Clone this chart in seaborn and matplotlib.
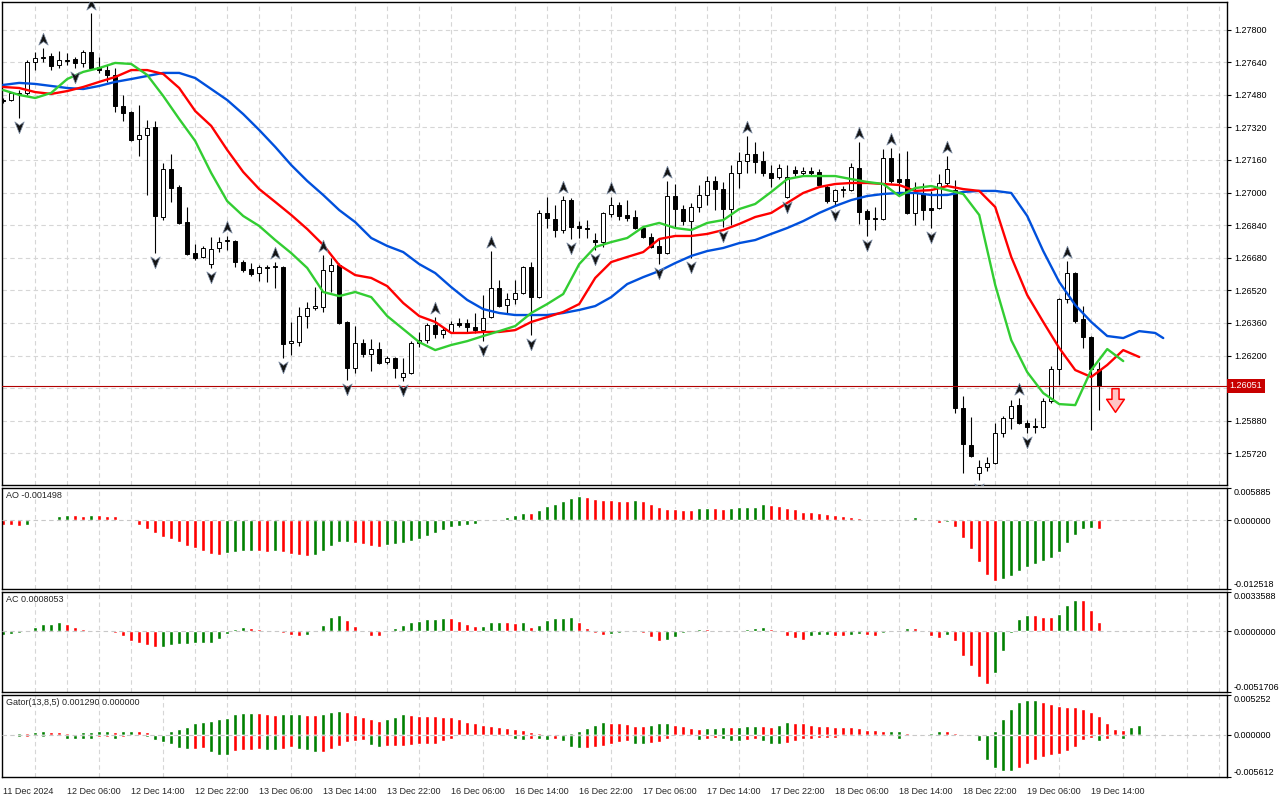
import numpy as np
import pandas as pd
import matplotlib
matplotlib.use("Agg")
import matplotlib.pyplot as plt
from matplotlib.path import Path
from matplotlib.transforms import offset_copy, blended_transform_factory
import seaborn as sns

# hourly GBPUSD-like candles, 11 Dec 22:00 .. 19 Dec 15:00
opens = [
    1.27454, 1.27454, 1.27484, 1.27489, 1.27641, 1.27660, 1.27670, 1.27626, 1.27646, 1.27655,
    1.27636, 1.27690, 1.27616, 1.27601, 1.27577, 1.27425, 1.27395, 1.27263, 1.27282, 1.27322,
    1.26880, 1.27116, 1.27027, 1.26855, 1.26703, 1.26684, 1.26649, 1.26728, 1.26762, 1.26762,
    1.26659, 1.26625, 1.26605, 1.26630, 1.26635, 1.26635, 1.26262, 1.26266, 1.26394, 1.26433,
    1.26438, 1.26615, 1.26644, 1.26365, 1.26139, 1.26262, 1.26208, 1.26232, 1.26168, 1.26188,
    1.26095, 1.26114, 1.26262, 1.26276, 1.26350, 1.26306, 1.26316, 1.26360, 1.26360, 1.26340,
    1.26325, 1.26389, 1.26532, 1.26448, 1.26478, 1.26507, 1.26635, 1.26487, 1.26900, 1.26870,
    1.26816, 1.26963, 1.26836, 1.26826, 1.26767, 1.26757, 1.26895, 1.26939, 1.26890, 1.26880,
    1.26826, 1.26782, 1.26738, 1.26703, 1.26983, 1.26919, 1.26860, 1.26929, 1.26988, 1.27057,
    1.27017, 1.26919, 1.27096, 1.27155, 1.27189, 1.27155, 1.27096, 1.27076, 1.26978, 1.27111,
    1.27096, 1.27106, 1.27101, 1.27027, 1.26958, 1.27012, 1.27012, 1.27120, 1.26909, 1.26870,
    1.26870, 1.27170, 1.27066, 1.27066, 1.26900, 1.26998, 1.26924, 1.26924, 1.27047, 1.27012,
    1.25943, 1.25761, 1.25624, 1.25653, 1.25673, 1.25820, 1.25893, 1.25957, 1.25869, 1.25854,
    1.25849, 1.25977, 1.26134, 1.26478, 1.26605, 1.26379, 1.26291, 1.26134,
]
highs = [
    1.27464, 1.27493, 1.27503, 1.27651, 1.27690, 1.27709, 1.27685, 1.27695, 1.27685, 1.27665,
    1.27700, 1.27881, 1.27665, 1.27626, 1.27611, 1.27479, 1.27400, 1.27430, 1.27356, 1.27351,
    1.27145, 1.27189, 1.27037, 1.26929, 1.26747, 1.26738, 1.26782, 1.26782, 1.26787, 1.26767,
    1.26669, 1.26654, 1.26644, 1.26644, 1.26659, 1.26639, 1.26365, 1.26438, 1.26463, 1.26536,
    1.26693, 1.26679, 1.26654, 1.26370, 1.26345, 1.26281, 1.26281, 1.26266, 1.26198, 1.26193,
    1.26188, 1.26271, 1.26316, 1.26360, 1.26389, 1.26340, 1.26370, 1.26384, 1.26379, 1.26409,
    1.26497, 1.26713, 1.26571, 1.26507, 1.26571, 1.26639, 1.26659, 1.26914, 1.26978, 1.26939,
    1.26983, 1.26973, 1.26860, 1.26865, 1.26801, 1.26905, 1.26978, 1.26954, 1.26963, 1.26914,
    1.26831, 1.26801, 1.26777, 1.27057, 1.27042, 1.26939, 1.26949, 1.27037, 1.27081, 1.27081,
    1.27052, 1.27135, 1.27199, 1.27278, 1.27248, 1.27204, 1.27135, 1.27140, 1.27135, 1.27130,
    1.27125, 1.27125, 1.27116, 1.27037, 1.27017, 1.27032, 1.27145, 1.27248, 1.26919, 1.26929,
    1.27214, 1.27219, 1.27194, 1.27204, 1.27052, 1.27047, 1.27008, 1.27091, 1.27179, 1.27062,
    1.26001, 1.25898, 1.25687, 1.25702, 1.25869, 1.25903, 1.25982, 1.25992, 1.25884, 1.25893,
    1.25992, 1.26149, 1.26482, 1.26664, 1.26610, 1.26443, 1.26296, 1.26168,
]
lows = [
    1.27439, 1.27449, 1.27366, 1.27479, 1.27601, 1.27641, 1.27601, 1.27611, 1.27626, 1.27611,
    1.27616, 1.27606, 1.27587, 1.27543, 1.27395, 1.27351, 1.27253, 1.27179, 1.26988, 1.26703,
    1.26865, 1.26954, 1.26846, 1.26693, 1.26669, 1.26679, 1.26630, 1.26708, 1.26718, 1.26635,
    1.26610, 1.26590, 1.26566, 1.26561, 1.26532, 1.26188, 1.26203, 1.26247, 1.26335, 1.26424,
    1.26414, 1.26512, 1.26355, 1.26080, 1.26114, 1.26193, 1.26124, 1.26158, 1.26158, 1.26090,
    1.26075, 1.26109, 1.26242, 1.26262, 1.26286, 1.26286, 1.26311, 1.26340, 1.26311, 1.26311,
    1.26271, 1.26384, 1.26438, 1.26409, 1.26453, 1.26502, 1.26301, 1.26482, 1.26826, 1.26782,
    1.26801, 1.26772, 1.26777, 1.26777, 1.26718, 1.26733, 1.26880, 1.26865, 1.26860, 1.26821,
    1.26777, 1.26728, 1.26649, 1.26698, 1.26831, 1.26841, 1.26679, 1.26905, 1.26939, 1.26914,
    1.26831, 1.26841, 1.27022, 1.27096, 1.27096, 1.27081, 1.27027, 1.27066, 1.26973, 1.27081,
    1.27081, 1.27081, 1.27027, 1.26949, 1.26934, 1.26978, 1.27008, 1.26846, 1.26787, 1.26816,
    1.26865, 1.27047, 1.26988, 1.26895, 1.26841, 1.26865, 1.26826, 1.26919, 1.27037, 1.25918,
    1.25624, 1.25702, 1.25589, 1.25633, 1.25668, 1.25800, 1.25839, 1.25864, 1.25820, 1.25820,
    1.25844, 1.25967, 1.26055, 1.26458, 1.26360, 1.26237, 1.25835, 1.25933,
]
closes = [
    1.27449, 1.27489, 1.27489, 1.27641, 1.27660, 1.27665, 1.27621, 1.27651, 1.27651, 1.27636,
    1.27690, 1.27611, 1.27601, 1.27577, 1.27425, 1.27390, 1.27258, 1.27282, 1.27317, 1.26885,
    1.27116, 1.27022, 1.26851, 1.26698, 1.26679, 1.26728, 1.26723, 1.26757, 1.26767, 1.26659,
    1.26620, 1.26600, 1.26635, 1.26635, 1.26639, 1.26257, 1.26271, 1.26394, 1.26433, 1.26443,
    1.26620, 1.26644, 1.26360, 1.26139, 1.26262, 1.26208, 1.26232, 1.26163, 1.26188, 1.26139,
    1.26114, 1.26262, 1.26276, 1.26350, 1.26306, 1.26325, 1.26355, 1.26350, 1.26340, 1.26325,
    1.26384, 1.26532, 1.26443, 1.26478, 1.26507, 1.26635, 1.26487, 1.26900, 1.26875, 1.26816,
    1.26963, 1.26831, 1.26826, 1.26821, 1.26757, 1.26900, 1.26939, 1.26885, 1.26875, 1.26826,
    1.26782, 1.26733, 1.26703, 1.26983, 1.26919, 1.26860, 1.26929, 1.26988, 1.27057, 1.27017,
    1.26919, 1.27096, 1.27155, 1.27189, 1.27150, 1.27096, 1.27071, 1.27120, 1.27076, 1.27096,
    1.27106, 1.27096, 1.27037, 1.26958, 1.27012, 1.27017, 1.27125, 1.26905, 1.26870, 1.26875,
    1.27170, 1.27057, 1.27052, 1.26900, 1.26998, 1.26914, 1.26914, 1.27047, 1.27116, 1.25943,
    1.25766, 1.25707, 1.25653, 1.25673, 1.25820, 1.25893, 1.25952, 1.25869, 1.25849, 1.25849,
    1.25977, 1.26134, 1.26478, 1.26605, 1.26370, 1.26291, 1.26134, 1.26051,
]

# alligator lines, read every second bar (shifted forward past the last candle)
jaw_idx = list(range(0, 145, 2)) + [145]
jaw = [
    1.27528, 1.27538, 1.27533, 1.27523, 1.27513, 1.27508, 1.27523, 1.27543, 1.27557, 1.27572,
    1.27587, 1.27587, 1.27562, 1.27508, 1.27454, 1.27385, 1.27307, 1.27224, 1.27135, 1.27057,
    1.26988, 1.26914, 1.26855, 1.26777, 1.26738, 1.26708, 1.26649, 1.26605, 1.26536, 1.26473,
    1.26428, 1.26409, 1.26399, 1.26399, 1.26399, 1.26409, 1.26424, 1.26443, 1.26487, 1.26551,
    1.26585, 1.26615, 1.26654, 1.26689, 1.26713, 1.26728, 1.26752, 1.26767, 1.26797, 1.26826,
    1.26860, 1.26900, 1.26934, 1.26963, 1.26983, 1.26993, 1.26998, 1.26998, 1.26988, 1.26988,
    1.27003, 1.27008, 1.27008, 1.26998, 1.26885, 1.26713, 1.26561, 1.26448, 1.26365, 1.26296,
    1.26286, 1.26320, 1.26311, 1.26286,
]
teeth_idx = list(range(0, 143, 2))
teeth = [
    1.27518, 1.27513, 1.27493, 1.27484, 1.27498, 1.27518, 1.27543, 1.27567, 1.27601, 1.27601,
    1.27582, 1.27513, 1.27400, 1.27327, 1.27209, 1.27101, 1.27017, 1.26954, 1.26890, 1.26821,
    1.26743, 1.26644, 1.26595, 1.26581, 1.26541, 1.26458, 1.26394, 1.26365, 1.26311, 1.26311,
    1.26316, 1.26316, 1.26325, 1.26365, 1.26389, 1.26414, 1.26453, 1.26581, 1.26659, 1.26684,
    1.26708, 1.26772, 1.26787, 1.26787, 1.26797, 1.26816, 1.26846, 1.26880, 1.26900, 1.26949,
    1.26998, 1.27027, 1.27042, 1.27047, 1.27047, 1.27042, 1.27037, 1.27008, 1.27012, 1.27032,
    1.27017, 1.27008, 1.26929, 1.26684, 1.26497, 1.26365, 1.26237, 1.26129, 1.26095, 1.26154,
    1.26227, 1.26193,
]
lips_idx = list(range(0, 141, 2))
lips = [
    1.27503, 1.27479, 1.27464, 1.27489, 1.27557, 1.27592, 1.27611, 1.27636, 1.27631, 1.27577,
    1.27474, 1.27361, 1.27253, 1.27096, 1.26958, 1.26885, 1.26836, 1.26767, 1.26703, 1.26630,
    1.26512, 1.26492, 1.26512, 1.26487, 1.26394, 1.26330, 1.26266, 1.26227, 1.26252, 1.26271,
    1.26296, 1.26320, 1.26345, 1.26409, 1.26453, 1.26502, 1.26649, 1.26733, 1.26757, 1.26777,
    1.26831, 1.26851, 1.26826, 1.26816, 1.26851, 1.26865, 1.26919, 1.26944, 1.27003, 1.27066,
    1.27081, 1.27081, 1.27081, 1.27066, 1.27052, 1.27042, 1.26983, 1.27022, 1.27032, 1.27012,
    1.26993, 1.26890, 1.26546, 1.26276, 1.26119, 1.26016, 1.25962, 1.25957, 1.26129, 1.26232,
    1.26173,
]

up_fractals = [5, 11, 28, 34, 40, 54, 61, 70, 76, 83, 93, 107, 111, 118, 127, 133]
down_fractals = [2, 9, 19, 26, 35, 43, 50, 60, 66, 71, 74, 82, 86, 90, 98, 104, 108, 116, 122, 128]
signal_idx = [139]
signal_price = [1.25982]

ao = [
    -0.00079, -0.00091, -0.00103, -0.00079, -0.00012, 0.00006, 0.00018, 0.00073, 0.00091, 0.00089,
    0.00073, 0.00091, 0.00089, 0.00085, 0.00073, 0.00030, -0.00018, -0.00091, -0.00164, -0.00231,
    -0.00304, -0.00346, -0.00395, -0.00474, -0.00504, -0.00558, -0.00613, -0.00631, -0.00601, -0.00577,
    -0.00558, -0.00552, -0.00565, -0.00571, -0.00558, -0.00577, -0.00607, -0.00625, -0.00649, -0.00631,
    -0.00558, -0.00474, -0.00395, -0.00388, -0.00419, -0.00425, -0.00474, -0.00492, -0.00455, -0.00437,
    -0.00413, -0.00376, -0.00340, -0.00291, -0.00237, -0.00170, -0.00127, -0.00097, -0.00085, -0.00067,
    -0.00018, 0.00006, 0.00024, 0.00061, 0.00103, 0.00140, 0.00138, 0.00182, 0.00255, 0.00304,
    0.00358, 0.00407, 0.00437, 0.00419, 0.00382, 0.00364, 0.00362, 0.00360, 0.00358, 0.00364,
    0.00346, 0.00291, 0.00237, 0.00200, 0.00198, 0.00182, 0.00180, 0.00219, 0.00220, 0.00218,
    0.00200, 0.00220, 0.00237, 0.00238, 0.00249, 0.00291, 0.00285, 0.00255, 0.00219, 0.00200,
    0.00152, 0.00146, 0.00127, 0.00115, 0.00091, 0.00073, 0.00055, 0.00049, 0.00015, 0.00002,
    0.00003, 0.00004, 0.00006, 0.00030, 0.00055, 0.00030, -0.00006, -0.00042, -0.00036, -0.00121,
    -0.00322, -0.00522, -0.00759, -0.00995, -0.01105, -0.01068, -0.01014, -0.00929, -0.00850, -0.00795,
    -0.00741, -0.00686, -0.00577, -0.00413, -0.00267, -0.00158, -0.00140, -0.001498,
]
ac = [
    -0.00029, -0.00023, -0.00014, 0.00006, 0.00040, 0.00063, 0.00066, 0.00078, 0.00063, 0.00034,
    0.00017, 0.00014, 0.00009, 0.00003, -0.00014, -0.00040, -0.00083, -0.00101, -0.00118, -0.00135,
    -0.00132, -0.00112, -0.00109, -0.00106, -0.00103, -0.00101, -0.00098, -0.00069, -0.00020, 0.00017,
    0.00034, 0.00032, 0.00017, 0.00003, -0.00001, -0.00014, -0.00032, -0.00040, -0.00032, 0.00001,
    0.00052, 0.00121, 0.00138, 0.00095, 0.00043, -0.00001, -0.00040, -0.00043, 0.00001, 0.00026,
    0.00052, 0.00078, 0.00089, 0.00106, 0.00109, 0.00112, 0.00111, 0.00086, 0.00060, 0.00043,
    0.00046, 0.00078, 0.00080, 0.00077, 0.00075, 0.00078, 0.00034, 0.00052, 0.00095, 0.00112,
    0.00115, 0.00121, 0.00078, 0.00026, -0.00014, -0.00032, -0.00020, -0.00011, -0.00006, 0.00001,
    -0.00017, -0.00049, -0.00083, -0.00075, -0.00049, -0.00017, -0.00006, 0.00023, 0.00022, 0.00009,
    0.00003, 0.00009, 0.00011, 0.00017, 0.00026, 0.00034, 0.00023, -0.00003, -0.00043, -0.00057,
    -0.00072, -0.00040, -0.00032, -0.00029, -0.00040, -0.00043, -0.00032, -0.00023, -0.00032, -0.00043,
    -0.00017, -0.00002, 0.00007, 0.00033, 0.00030, 0.00009, -0.00040, -0.00057, -0.00032, -0.00083,
    -0.00213, -0.00299, -0.00393, -0.00448, -0.00359, -0.00169, -0.00014, 0.00103, 0.00138, 0.00136,
    0.00122, 0.00120, 0.00149, 0.00224, 0.00267, 0.00265, 0.00181, 0.0008053,
]
gator_up = [
    0.00004, 0.00009, 0.00022, 0.00018, 0.00036, 0.00049, 0.00036, 0.00031, 0.00022, 0.00013,
    0.00036, 0.00040, 0.00049, 0.00051, 0.00036, 0.00049, 0.00054, 0.00045, 0.00036, 0.00013,
    0.00004, 0.00049, 0.00076, 0.00103, 0.00148, 0.00174, 0.00183, 0.00201, 0.00224, 0.00268,
    0.00282, 0.00291, 0.00282, 0.00268, 0.00264, 0.00268, 0.00273, 0.00275, 0.00259, 0.00255,
    0.00268, 0.00304, 0.00317, 0.00304, 0.00255, 0.00232, 0.00201, 0.00183, 0.00210, 0.00237,
    0.00268, 0.00255, 0.00250, 0.00246, 0.00241, 0.00236, 0.00228, 0.00201, 0.00174, 0.00148,
    0.00134, 0.00121, 0.00107, 0.00094, 0.00080, 0.00067, 0.00040, 0.00018, 0.00013, 0.00004,
    0.00013, 0.00027, 0.00054, 0.00094, 0.00134, 0.00161, 0.00156, 0.00148, 0.00143, 0.00121,
    0.00116, 0.00134, 0.00148, 0.00152, 0.00134, 0.00121, 0.00094, 0.00080, 0.00085, 0.00094,
    0.00107, 0.00098, 0.00103, 0.00112, 0.00121, 0.00116, 0.00107, 0.00134, 0.00161, 0.00156,
    0.00148, 0.00134, 0.00116, 0.00112, 0.00107, 0.00103, 0.00098, 0.00089, 0.00067, 0.00058,
    0.00049, 0.00051, 0.00053, 0.00027, 0.00013, 0.00004, 0.00027, 0.00049, 0.00048, 0.00027,
    0.00013, 0.00015, 0.00013, 0.00009, 0.00049, 0.00201, 0.00335, 0.00429, 0.00456, 0.00458,
    0.00429, 0.00402, 0.00375, 0.00362, 0.00361, 0.00335, 0.00295, 0.00241, 0.00152, 0.00080,
    0.00067, 0.00107, 0.00129,
]
gator_down = [
    -0.00004, -0.00009, -0.00036, -0.00031, -0.00009, -0.00027, -0.00009, -0.00004, -0.00054, -0.00056,
    -0.00058, -0.00060, -0.00036, -0.00027, -0.00054, -0.00036, -0.00013, -0.00009, -0.00036, -0.00067,
    -0.00094, -0.00125, -0.00183, -0.00192, -0.00188, -0.00183, -0.00228, -0.00268, -0.00273, -0.00215,
    -0.00210, -0.00206, -0.00192, -0.00197, -0.00201, -0.00192, -0.00170, -0.00192, -0.00197, -0.00228,
    -0.00224, -0.00192, -0.00148, -0.00103, -0.00080, -0.00072, -0.00134, -0.00161, -0.00156, -0.00148,
    -0.00145, -0.00143, -0.00125, -0.00123, -0.00121, -0.00080, -0.00054, -0.00022, -0.00018, -0.00009,
    -0.00005, -0.00002, -0.00013, -0.00009, -0.00054, -0.00067, -0.00054, -0.00056, -0.00067, -0.00054,
    -0.00080, -0.00161, -0.00174, -0.00172, -0.00170, -0.00148, -0.00121, -0.00094, -0.00089, -0.00121,
    -0.00125, -0.00107, -0.00094, -0.00054, -0.00022, -0.00009, -0.00022, -0.00067, -0.00054, -0.00040,
    -0.00054, -0.00080, -0.00085, -0.00067, -0.00054, -0.00080, -0.00121, -0.00125, -0.00107, -0.00080,
    -0.00058, -0.00054, -0.00049, -0.00045, -0.00040, -0.00018, -0.00013, -0.00009, -0.00013, -0.00009,
    -0.00013, -0.00022, -0.00054, -0.00022, -0.00013, -0.00022, -0.00009, -0.00004, -0.00022, -0.00024,
    -0.00020, -0.00009, -0.00089, -0.00335, -0.00443, -0.00478, -0.00481, -0.00443, -0.00389, -0.00335,
    -0.00295, -0.00268, -0.00255, -0.00215, -0.00161, -0.00067, -0.00040, -0.00089, -0.00054, -0.00009,
    -0.00054, -0.00004, 0.0,
]

time_labels = ["11 Dec 2024", "12 Dec 06:00", "12 Dec 14:00", "12 Dec 22:00", "13 Dec 06:00",
               "13 Dec 14:00", "13 Dec 22:00", "16 Dec 06:00", "16 Dec 14:00", "16 Dec 22:00",
               "17 Dec 06:00", "17 Dec 14:00", "17 Dec 22:00", "18 Dec 06:00", "18 Dec 14:00",
               "18 Dec 22:00", "19 Dec 06:00", "19 Dec 14:00"]
price_ticks = [1.25720, 1.25880, 1.26040, 1.26200, 1.26360, 1.26520, 1.26680,
               1.26840, 1.27000, 1.27160, 1.27320, 1.27480, 1.27640, 1.27800]
main_range = (1.25565, 1.27935)
ao_range = (-0.012518, 0.005885)
ac_range = (-0.0051706, 0.0033588)
gator_range = (-0.005612, 0.005252)

GREEN = "#008000"
RED = "#ff0000"
GRID = "#d6d6d6"
DASH = (0, (4, 3))

sns.set_style("white")
plt.rcParams["font.family"] = ["Liberation Sans", "DejaVu Sans"]
plt.rcParams["font.size"] = 6.5

fig = plt.figure(figsize=(12.8, 8), dpi=100)


def add_panel(top, bottom):
    return fig.add_axes([2 / 1280, 1 - bottom / 800, 1225 / 1280, (bottom - top) / 800])


ax = add_panel(2, 485)
ax_ao = add_panel(488, 589)
ax_ac = add_panel(592, 692)
ax_gt = add_panel(695, 777)

for a in [ax, ax_ao, ax_ac, ax_gt]:
    a.set_xlim(-0.15, 152.97)
    a.set_xticks(np.arange(0, 153, 4), minor=True)
    a.grid(axis="x", which="minor", color=GRID, ls=DASH, lw=0.8)
    a.tick_params(axis="x", which="both", length=0, labelbottom=False)
    a.tick_params(axis="y", left=False, labelleft=False, right=True, labelright=True,
                  length=3, width=0.8, direction="out", pad=2, labelsize=6.5, colors="black")
    a.set_axisbelow(True)
    for s in a.spines.values():
        s.set_color("black")
        s.set_linewidth(1)

# --- main price panel ---
df = pd.DataFrame({"o": opens, "h": highs, "l": lows, "c": closes})
df["i"] = np.arange(len(df))
bull = df["c"] >= df["o"]
last_price = closes[-1]

ax.set_ylim(*main_range)
ax.set_yticks(price_ticks)
# the tick hidden under the current-price box gets no text
ax.set_yticklabels(["" if abs(p - last_price) < 0.0003 else f"{p:.5f}" for p in price_ticks])
ax.grid(axis="y", color=GRID, ls=DASH, lw=0.8)

ax.vlines(df["i"], df["l"], df["h"], color="black", lw=0.8, zorder=2)
ax.bar(df["i"], (df["c"] - df["o"]).abs(), bottom=df[["o", "c"]].min(axis=1), width=0.55,
       color=np.where(bull, "white", "black"), edgecolor="black", linewidth=0.7, zorder=3)

for idx, vals, col in [(jaw_idx, jaw, "#0050dc"), (teeth_idx, teeth, RED), (lips_idx, lips, "#32cd32")]:
    sns.lineplot(x=idx, y=vals, color=col, lw=1.7, ax=ax, zorder=4)
ax.set_xlabel("")
ax.set_ylabel("")

up_mk = Path([(0, 1), (0.75, -0.9), (0, -0.35), (-0.75, -0.9), (0, 1)],
             [Path.MOVETO, Path.LINETO, Path.LINETO, Path.LINETO, Path.CLOSEPOLY])
dn_mk = Path([(x, -y) for x, y in up_mk.vertices], up_mk.codes)
above = offset_copy(ax.transData, fig=fig, x=0, y=9, units="dots")
below = offset_copy(ax.transData, fig=fig, x=0, y=-9, units="dots")
ax.plot(up_fractals, df["h"].iloc[up_fractals], ls="none", marker=up_mk, ms=9,
        color="#141414", mec="#7f8fa6", mew=0.5, transform=above, zorder=5)
ax.plot(down_fractals, df["l"].iloc[down_fractals], ls="none", marker=dn_mk, ms=9,
        color="#141414", mec="#7f8fa6", mew=0.5, transform=below, zorder=5)

sig_mk = Path([(-0.3, 1), (0.3, 1), (0.3, 0.1), (0.75, 0.1), (0, -1), (-0.75, 0.1), (-0.3, 0.1), (-0.3, 1)],
              [Path.MOVETO] + [Path.LINETO] * 6 + [Path.CLOSEPOLY])
ax.plot(signal_idx, signal_price, ls="none", marker=sig_mk, ms=17, mfc="#ffc4c4", mec=RED, mew=1.1, zorder=6)

ax.axhline(last_price, color="#b00000", lw=0.8, zorder=3)
ax.text(1.0022, last_price, f"{last_price:.5f}", transform=blended_transform_factory(ax.transAxes, ax.transData),
        ha="left", va="center", color="white", fontsize=6.5, clip_on=False, zorder=20,
        bbox=dict(boxstyle="square,pad=0.25", fc="#c80000", ec="none"))


# --- oscillator panels ---
def trend_colors(vals, first, key=lambda v: v):
    cols = [first]
    for prev, cur in zip(vals[:-1], vals[1:]):
        cols.append(GREEN if key(cur) > key(prev) else RED)
    return cols


def scale_ticks(a, lo, hi, fmt):
    a.set_ylim(lo, hi)
    a.set_yticks([lo, 0, hi])
    a.set_yticklabels([fmt % lo, fmt % 0, fmt % hi])
    labels = a.get_yticklabels()
    labels[0].set_va("bottom")
    labels[2].set_va("top")
    a.axhline(0, color="#c8c8c8", ls=DASH, lw=0.8, zorder=4)


ax_ao.bar(np.arange(len(ao)), ao, width=0.5, color=trend_colors(ao, RED), zorder=2)
scale_ticks(ax_ao, *ao_range, "%.6f")
ax_ao.text(0.003, 0.93, f"AO {ao[-1]:.6f}", transform=ax_ao.transAxes, va="center", fontsize=6.5)

ax_ac.bar(np.arange(len(ac)), ac, width=0.5, color=trend_colors(ac, GREEN), zorder=2)
scale_ticks(ax_ac, *ac_range, "%.7f")
ax_ac.text(0.003, 0.92, f"AC {ac[-1]:.7f}", transform=ax_ac.transAxes, va="center", fontsize=6.5)

ax_gt.bar(np.arange(len(gator_up)), gator_up, width=0.5, color=trend_colors(gator_up, GREEN, abs), zorder=2)
ax_gt.bar(np.arange(len(gator_down)), gator_down, width=0.5, color=trend_colors(gator_down, GREEN, abs), zorder=2)
scale_ticks(ax_gt, *gator_range, "%.6f")
ax_gt.text(0.003, 0.91, f"Gator(13,8,5) {gator_up[-1]:.6f} {abs(gator_down[-1]):.6f}",
           transform=ax_gt.transAxes, va="center", fontsize=6.5)

ax_gt.set_xticks(np.arange(0, 8 * len(time_labels), 8))
ax_gt.set_xticklabels(time_labels, ha="left")
ax_gt.tick_params(axis="x", which="major", length=4, width=0.8, direction="out",
                  labelbottom=True, pad=3, labelsize=6.5)

fig.savefig("out.png", dpi=100, facecolor="white")
